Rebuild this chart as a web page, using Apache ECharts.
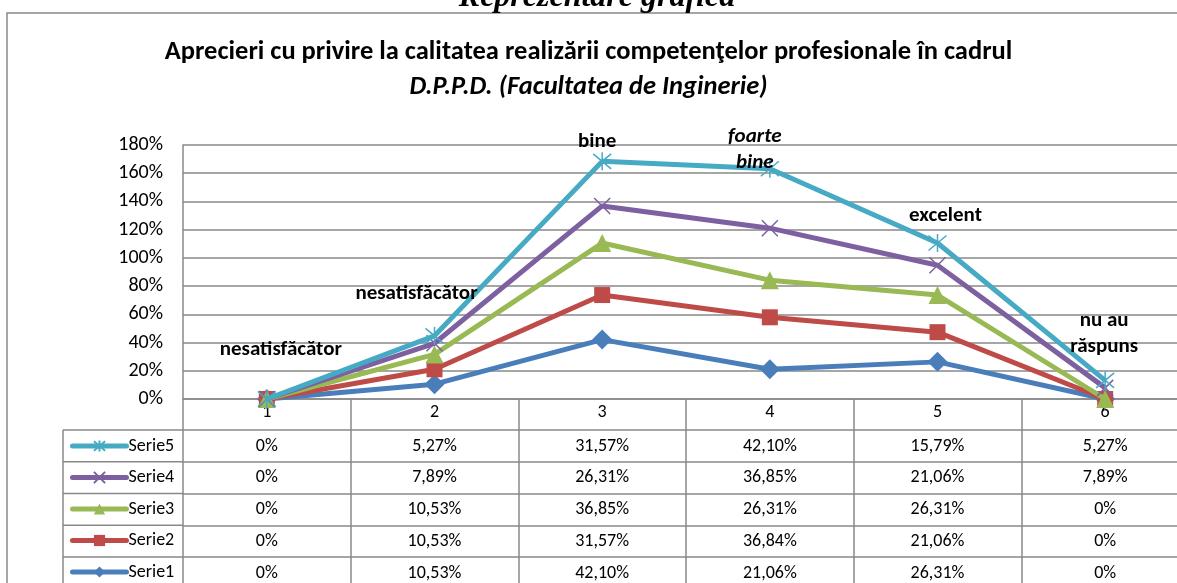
<!DOCTYPE html>
<html>
<head>
<meta charset="utf-8">
<script src="https://cdn.jsdelivr.net/npm/echarts@6/dist/echarts.min.js"></script>
<style>
  html, body { margin: 0; padding: 0; background: #fff; }
  #chart { width: 1177px; height: 583px; }
</style>
</head>
<body>
<div id="chart"></div>
<script>
// categories and values (percent)
var categories = ['1', '2', '3', '4', '5', '6'];
var serie1 = [0, 10.53, 42.10, 21.06, 26.31, 0];
var serie2 = [0, 10.53, 31.57, 36.84, 21.06, 0];
var serie3 = [0, 10.53, 36.85, 26.31, 26.31, 0];
var serie4 = [0, 7.89, 26.31, 36.85, 21.06, 7.89];
var serie5 = [0, 5.27, 31.57, 42.10, 15.79, 5.27];
var seriesNames = ['Serie1', 'Serie2', 'Serie3', 'Serie4', 'Serie5'];
var pointLabels = ['nesatisfăcător', 'nesatisfăcător', 'bine', 'foarte\nbine', 'excelent', 'nu au\nrăspuns'];
var yTicks = [0, 20, 40, 60, 80, 100, 120, 140, 160, 180];

var allValues = [serie1, serie2, serie3, serie4, serie5];
var colors = ['#4A7EBB', '#BE4B48', '#98B954', '#7D60A0', '#46AAC5'];
var symbols = [
  'diamond',
  'rect',
  'triangle',
  'path://M0,0L10,10M10,0L0,10',
  'path://M0,1L10,11M10,1L0,11M5,0L5,12'
];
var symbolSizes = [20, 16, 18, 16, 18];
var labelOffsets = [[14, -49], [-18, -42], [-5, -20], [-15, -19], [8, -27], [-1, -47]];

var font = 'Carlito, Lato, sans-serif';
var gridColor = '#898989';
var tableTop = 430, rowH = 31.75, tableLeft = 63, plotLeft = 183;

function fmt(v) {
  if (v === 0) return '0%';
  return v.toFixed(2).replace('.', ',') + '%';
}

var dom = document.getElementById('chart');
var myChart = echarts.init(dom, null, { renderer: 'canvas' });

// table rows, top row is Serie5
var tableRows = seriesNames.slice().reverse();

var xAxes = [{
  type: 'category',
  data: categories,
  boundaryGap: true,
  axisLine: { lineStyle: { color: gridColor, width: 1.5 } },
  axisTick: { show: true, length: 200, lineStyle: { color: gridColor, width: 1.5 } },
  axisLabel: { color: '#000', fontSize: 18, fontFamily: font, margin: 4 }
}];
tableRows.forEach(function (name, k) {
  var vals = allValues[seriesNames.indexOf(name)];
  xAxes.push({
    type: 'category',
    data: categories,
    position: 'bottom',
    offset: (tableTop - 399) + rowH * k,
    axisLine: { show: true, lineStyle: { color: gridColor, width: 1.5 } },
    axisTick: { show: false },
    axisLabel: {
      color: '#000', fontSize: 18, fontFamily: font, margin: 7,
      formatter: function (v, i) { return fmt(vals[i]); }
    }
  });
});

var series = seriesNames.map(function (name, i) {
  var s = {
    name: name,
    type: 'line',
    stack: 'total',
    xAxisIndex: 0,
    data: allValues[i],
    symbol: symbols[i],
    symbolSize: symbolSizes[i],
    showAllSymbol: true,
    lineStyle: { color: colors[i], width: 5 },
    itemStyle: { color: colors[i], borderColor: colors[i], borderWidth: i >= 3 ? 1.5 : 0 },
    z: 2 + i
  };
  if (i === 4) {
    s.data = allValues[i].map(function (v, j) {
      return {
        value: v,
        label: {
          show: true,
          position: 'inside',
          offset: labelOffsets[j],
          formatter: pointLabels[j],
          fontStyle: j === 3 ? 'italic' : 'normal'
        }
      };
    });
    s.label = {
      color: '#000', fontSize: 21, fontWeight: 'bold', fontFamily: font, lineHeight: 26
    };
    s.z = 10;
  }
  return s;
});

var graphics = [
  { type: 'rect', shape: { x: 7, y: 13, width: 1250, height: 650 },
    style: { fill: 'none', stroke: gridColor, lineWidth: 1.5 }, z: -1 },
  { type: 'text', x: 597, y: 14,
    style: { text: 'Reprezentare grafică', align: 'center', verticalAlign: 'bottom',
      font: 'italic bold 32px "Liberation Serif", serif', fill: '#000' } },
  { type: 'line', shape: { x1: tableLeft, y1: tableTop, x2: tableLeft, y2: 600 },
    style: { stroke: gridColor, lineWidth: 1.5 } }
];
tableRows.forEach(function (name, k) {
  graphics.push({ type: 'line',
    shape: { x1: tableLeft, y1: tableTop + rowH * k, x2: plotLeft, y2: tableTop + rowH * k },
    style: { stroke: gridColor, lineWidth: 1.5 } });
});

var option = {
  animation: false,
  title: {
    text: 'Aprecieri cu privire la calitatea realizării competenţelor profesionale în cadrul',
    subtext: 'D.P.P.D. (Facultatea de Inginerie)',
    left: 'center',
    top: 34,
    itemGap: 8,
    textStyle: { color: '#000', fontSize: 26.5, fontWeight: 'bold', fontFamily: font },
    subtextStyle: { color: '#000', fontSize: 26.5, fontWeight: 'bold', fontStyle: 'italic', fontFamily: font }
  },
  legend: {
    orient: 'vertical',
    left: 70,
    top: 437,
    height: 200,
    padding: 0,
    itemWidth: 54,
    itemHeight: 14,
    itemGap: 13.5,
    selectedMode: false,
    data: tableRows,
    lineStyle: { width: 5, cap: 'round' },
    textStyle: { color: '#000', fontSize: 18, lineHeight: 14, fontFamily: font, padding: [0, 0, 0, -3] }
  },
  grid: { left: plotLeft, top: 145, width: 1006, bottom: 184, outerBoundsMode: 'none' },
  xAxis: xAxes,
  yAxis: {
    type: 'value',
    min: yTicks[0],
    max: yTicks[yTicks.length - 1],
    interval: 20,
    axisLine: { show: true, lineStyle: { color: gridColor, width: 1.5 } },
    axisTick: { show: false },
    splitLine: { lineStyle: { color: gridColor, width: 1.5 } },
    axisLabel: { color: '#000', fontSize: 20, fontFamily: font, margin: 20, formatter: '{value}%' }
  },
  graphic: graphics,
  series: series
};

myChart.setOption(option);
</script>
</body>
</html>
